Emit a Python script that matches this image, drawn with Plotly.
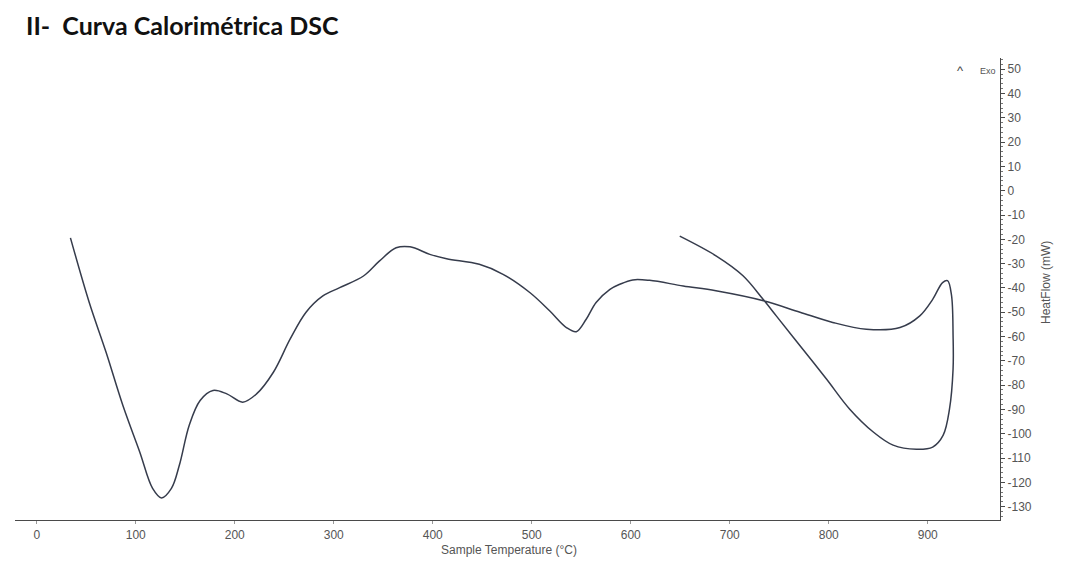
import plotly.graph_objects as go

# DSC heating segment: sample temperature (°C) and heat flow (mW)
heating_temp = [34, 53, 70, 87, 104, 117, 126, 136, 144, 154, 165, 178, 192, 208,
                222, 239, 256, 272, 289, 306, 330, 346, 363, 377, 397, 414, 447,
                471, 498, 518, 535, 545, 555, 565, 579, 589, 602, 619, 653, 686,
                734, 771, 804, 838, 872, 892, 905, 915, 920]
heating_flow = [-19.4, -46, -66.5, -88.4, -107.5, -122.5, -126.4, -122.5, -113,
                -96.5, -86.3, -82.2, -83.6, -87, -83.6, -74.7, -61, -50, -43.3,
                -39.9, -35.1, -29, -23.5, -23.1, -26.2, -28, -30.3, -34.4, -41.9,
                -49.4, -56.3, -58, -52.9, -46, -40.6, -38.5, -36.7, -36.9, -39.2,
                -41.2, -45.3, -50, -54.2, -57, -56.3, -51.5, -44.7, -37.8, -37]

# DSC cooling segment
cooling_temp = [924, 925.6, 925.6, 922, 915.5, 905, 888.6, 865, 845, 821, 797.7,
                771, 747, 733.7, 713.4, 686.5, 649.5]
cooling_flow = [-43, -59.7, -73.4, -89.8, -100.7, -105.5, -106.4, -104.7, -99.3,
                -89.8, -77.5, -63.8, -51.5, -44.7, -35, -26.9, -18.7]

x_ticks = [0, 100, 200, 300, 400, 500, 600, 700, 800, 900]
y_ticks = list(range(50, -140, -10))

axis_color = "#4a4a4a"
label_font = dict(family="Liberation Sans, Arial, sans-serif", size=12, color="#555555")

fig = go.Figure()
fig.add_trace(go.Scatter(
    x=heating_temp + cooling_temp,
    y=heating_flow + cooling_flow,
    mode="lines",
    line=dict(color="#363c4c", width=1.5, shape="spline", smoothing=1.0),
    showlegend=False,
    hoverinfo="skip",
))

fig.update_layout(
    width=1067, height=562,
    margin=dict(l=15, r=67, t=58, b=42),
    paper_bgcolor="white",
    plot_bgcolor="white",
    showlegend=False,
    xaxis=dict(
        range=[-22, 973],
        tickvals=x_ticks,
        ticktext=[str(v) for v in x_ticks],
        showgrid=False, zeroline=False,
        showline=True, linecolor=axis_color, linewidth=1.2,
        ticks="outside", ticklen=3, tickcolor="#999999",
        tickfont=label_font,
    ),
    yaxis=dict(
        range=[-135.5, 54.6],
        side="right",
        tickvals=y_ticks,
        ticktext=[str(v) for v in y_ticks],
        showgrid=False, zeroline=False,
        showline=True, linecolor=axis_color, linewidth=1.2,
        ticks="outside", ticklen=4, tickcolor=axis_color,
        minor=dict(dtick=2, ticks="outside", ticklen=2, tickcolor="#777777"),
        tickfont=label_font,
    ),
    annotations=[
        dict(text="<b>II-  Curva Calorimétrica DSC</b>", xref="paper", yref="paper",
             x=(24 - 15) / 985, y=(520 - 25) / 462, xanchor="left", yanchor="middle",
             showarrow=False,
             font=dict(family="Lato, Open Sans, sans-serif", size=25, color="#111111")),
        dict(text="Sample Temperature (°C)", xref="paper", yref="paper",
             x=(509 - 15) / 985, y=(520 - 550) / 462, xanchor="center", yanchor="middle",
             showarrow=False, font=label_font),
        dict(text="HeatFlow (mW)", xref="paper", yref="paper",
             x=(1046 - 15) / 985, y=(520 - 283) / 462, xanchor="center", yanchor="middle",
             textangle=-90, showarrow=False, font=label_font),
        dict(text="^", xref="paper", yref="paper",
             x=(960 - 15) / 985, y=(520 - 70) / 462, xanchor="center", yanchor="middle",
             showarrow=False, font=dict(family="Liberation Sans, Arial", size=13, color="#444444")),
        dict(text="Exo", xref="paper", yref="paper",
             x=(988 - 15) / 985, y=(520 - 71) / 462, xanchor="center", yanchor="middle",
             showarrow=False, font=dict(family="Liberation Sans, Arial", size=9, color="#555555")),
    ],
)

fig.write_html("out.html")
